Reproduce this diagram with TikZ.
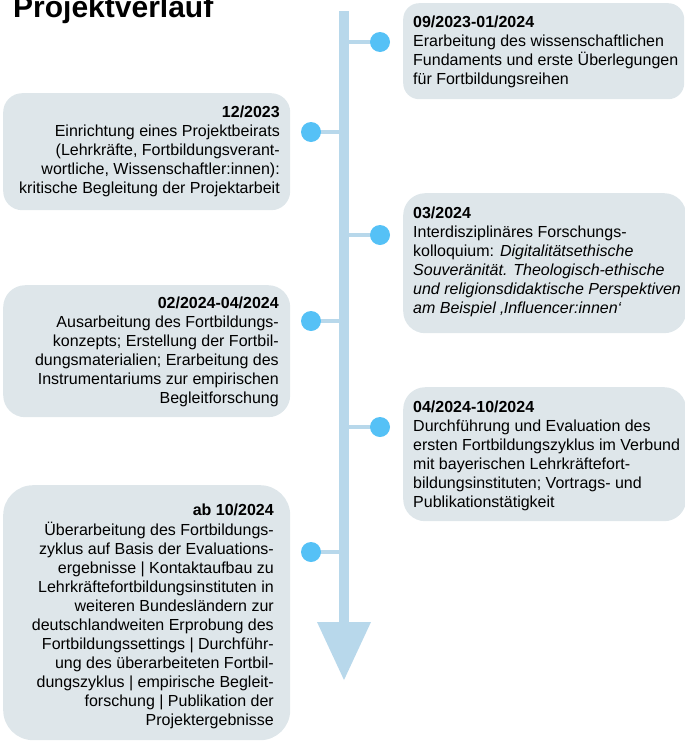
\documentclass[tikz,border=0pt]{standalone}
\usepackage{fontspec}
\setmainfont{Liberation Sans}
\definecolor{boxfill}{HTML}{DEE6EA}
\definecolor{dotblue}{HTML}{55C1F6}
\definecolor{barblue}{HTML}{B8D8EB}
\tikzset{
  entrybox/.style={fill=boxfill, draw=none, inner sep=0, anchor=north west},
  txt/.style={inner sep=0, font=\fontsize{16}{19}\selectfont},
  rtxt/.style={txt, anchor=north west, align=left},
  ltxt/.style={txt, anchor=north east, align=right},
  dot/.style={circle, fill=dotblue, minimum size=20pt, inner sep=0},
  conn/.style={draw=barblue, line width=3.5pt},
  bar/.style={draw=barblue, line width=10pt},
}
\begin{document}
\begin{tikzpicture}[x=1pt,y=-1pt]
\useasboundingbox (0,0) rectangle (685,742);

% boxes
\node[entrybox, minimum width=281pt, minimum height=96pt, rounded corners=16pt] (b1) at (403,3) {};
\node[entrybox, minimum width=287pt, minimum height=117pt, rounded corners=19pt] (b2) at (3,93) {};
\node[entrybox, minimum width=283pt, minimum height=140pt, rounded corners=22pt] (b3) at (403,193) {};
\node[entrybox, minimum width=287pt, minimum height=132pt, rounded corners=22pt] (b4) at (3,285) {};
\node[entrybox, minimum width=283pt, minimum height=134pt, rounded corners=22pt] (b5) at (403,387) {};
\node[entrybox, minimum width=287pt, minimum height=255pt, rounded corners=30pt] (b6) at (3,485) {};

% title
\node[anchor=base west, inner sep=0, font=\bfseries\fontsize{30}{36}\selectfont] (title) at (13,17) {Projektverlauf};

% timeline bar and arrow head
\coordinate (bartop) at (344,11);
\coordinate (barend) at (344,624);
\coordinate (hl) at (317,622);
\coordinate (hr) at (371,622);
\coordinate (tip) at (344,680);
\draw[bar] (bartop) -- (barend);
\fill[barblue] (hl) -- (hr) -- (tip) -- cycle;

% junctions and dots
\foreach \n/\x/\y in {1/380/42, 3/380/235, 5/380/427, 2/311/132, 4/311/321, 6/311/552} {
  \coordinate (j\n) at (344,\y);
  \draw[conn] (j\n) -- (\x,\y);
  \node[dot] (d\n) at (\x,\y) {};
}

% texts
\node[rtxt] (t1) at (413,13.7) {\strut\textbf{09/2023-01/2024}\\
Erarbeitung des wissenschaftlichen\\
Fundaments und erste Überlegungen\\
für Fortbildungsreihen};

\node[ltxt] (t2) at (280,103.7) {\strut\textbf{12/2023}\\
Einrichtung eines Projektbeirats\\
(Lehrkräfte, Fortbildungsverant-\\
wortliche, Wissenschaftler:innen):\\
kritische Begleitung der Projektarbeit};

\node[rtxt] (t3) at (413,204.7) {\strut\textbf{03/2024}\\
Interdisziplinäres Forschungs-\\
kolloquium: \textit{Digitalitätsethische}\\
\textit{Souveränität. Theologisch-ethische}\\
\textit{und religionsdidaktische Perspektiven}\\
\textit{am Beispiel ‚Influencer:innen‘}};

\node[ltxt] (t4) at (279,294.7) {\strut\textbf{02/2024-04/2024}\\
Ausarbeitung des Fortbildungs-\\
konzepts; Erstellung der Fortbil-\\
dungsmaterialien; Erarbeitung des\\
Instrumentariums zur empirischen\\
Begleitforschung};

\node[rtxt] (t5) at (413,398.7) {\strut\textbf{04/2024-10/2024}\\
Durchführung und Evaluation des\\
ersten Fortbildungszyklus im Verbund\\
mit bayerischen Lehrkräftefort-\\
bildungsinstituten; Vortrags- und\\
Publikationstätigkeit};

\node[ltxt] (t6) at (274,501.7) {\strut\textbf{ab 10/2024}\\
Überarbeitung des Fortbildungs-\\
zyklus auf Basis der Evaluations-\\
ergebnisse | Kontaktaufbau zu\\
Lehrkräftefortbildungsinstituten in\\
weiteren Bundesländern zur\\
deutschlandweiten Erprobung des\\
Fortbildungssettings | Durchführ-\\
ung des überarbeiteten Fortbil-\\
dungszyklus | empirische Begleit-\\
forschung | Publikation der\\
Projektergebnisse};
\end{tikzpicture}
\end{document}
